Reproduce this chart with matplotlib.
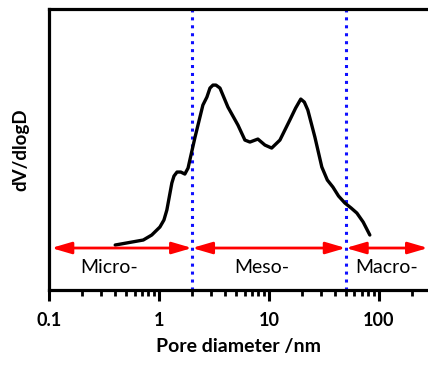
import matplotlib
matplotlib.use('Agg')
import matplotlib.pyplot as plt
from matplotlib.ticker import LogLocator, NullFormatter, FixedLocator, FixedFormatter

plt.rcParams['font.family'] = ['Lato', 'DejaVu Sans']

# pore size distribution (arbitrary dV/dlogD units)
diameter = [0.40, 0.72, 0.86, 1.02, 1.11, 1.18, 1.31, 1.37, 1.46, 1.58, 1.72, 1.84,
            1.91, 2.13, 2.36, 2.51, 2.73, 2.91, 3.10, 3.30, 3.59, 4.24, 5.23, 6.05,
            6.72, 7.94, 9.2, 10.6, 12.6, 15.5, 17.5, 19.5, 21.0, 22.6, 26.2, 30.3,
            34.0, 38.2, 43.0, 49.1, 56.0, 63.1, 72.0, 82.8]
dvdlogd = [45, 50, 55, 63, 70, 80, 107, 114, 118, 118, 116, 122,
           130, 153, 173, 185, 193, 202, 205, 205, 202, 183, 165, 150,
           148, 151, 145, 142, 150, 170, 182, 191, 188, 180, 153, 123,
           110, 103, 94, 87, 82, 77, 68, 55]

bounds = [2, 50]
region_names = ["Micro-", "Meso-", "Macro-"]
region_label_x = [0.35, 8.6, 118]
xlim = (0.1, 280)

fig = plt.figure(figsize=(4.28, 3.65), dpi=100)
ax = fig.add_axes([0.1145, 0.2055, 0.8855, 0.7695])

ax.plot(diameter, dvdlogd, color='black', lw=2.4, solid_capstyle='round',
        solid_joinstyle='round', zorder=3)

for b in bounds:
    ax.axvline(b, color='#1010ff', ls=(0, (1, 1.6)), lw=2.2, zorder=2)

arrow_y = 42
edges = [0.105] + bounds + [xlim[1]]
for i in range(3):
    ax.annotate('', xy=(edges[i + 1], arrow_y), xytext=(edges[i], arrow_y),
                arrowprops=dict(arrowstyle='<|-|>,head_length=0.75,head_width=0.22',
                                color='red', lw=2, shrinkA=0, shrinkB=0,
                                mutation_scale=16), zorder=4)
    ax.text(region_label_x[i], 23, region_names[i], ha='center', va='center',
            fontsize=14)

ax.set_xscale('log')
ax.set_xlim(*xlim)
ax.set_ylim(0, 281)
ax.set_yticks([])

ax.xaxis.set_major_locator(FixedLocator([0.1, 1, 10, 100]))
ax.xaxis.set_major_formatter(FixedFormatter(['0.1', '1', '10', '100']))
ax.xaxis.set_minor_locator(LogLocator(base=10, subs=range(2, 10)))
ax.xaxis.set_minor_formatter(NullFormatter())
ax.tick_params(axis='x', which='major', direction='out', length=8, width=2.2,
               labelsize=13, pad=8)
ax.tick_params(axis='x', which='minor', direction='out', length=4.5, width=2.0)
for lbl in ax.get_xticklabels():
    lbl.set_fontweight('bold')

for s in ['left', 'bottom', 'top']:
    ax.spines[s].set_linewidth(2.3)
ax.spines['right'].set_visible(False)

ax.set_xlabel('Pore diameter /nm', fontsize=14, fontweight='bold', labelpad=6)
ax.set_ylabel('dV/dlogD', fontsize=13.5, fontweight='bold', labelpad=14)

fig.savefig('out.png', dpi=100)
